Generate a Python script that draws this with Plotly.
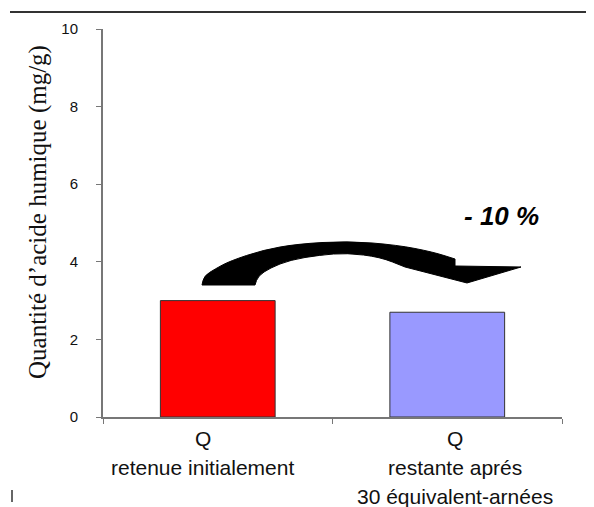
import plotly.graph_objects as go

# ---- data ----
categories = ["initial", "restante"]
values = [3.0, 2.7]
bar_colors = ["#FF0000", "#9999FF"]
label_lines = [["Q", "retenue initialement"],
               ["Q", "restante aprés", "30 équivalent-arnées"]]
y_ticks = [0, 2, 4, 6, 8, 10]
y_title = "Quantité d\u2019acide humique (mg/g)"
change_text = "- 10 %"

# page body has an 8px margin: size the figure so it fits the window
OFF = 8
W, H = 594 - OFF, 507 - OFF
L, R, T, B = 103 - OFF, 32, 29 - OFF, 90
PW, PH = W - L - R, H - T - B

def px(x):  # window pixel -> paper
    return (x - OFF - L) / PW

def py(y):
    return (H - B - (y - OFF)) / PH

def P(p):
    return f"{px(p[0]):.4f},{py(p[1]):.4f}"

def mid(a, b):
    return ((a[0] + b[0]) / 2, (a[1] + b[1]) / 2)

def smooth(pts):
    s = " L " + P(mid(pts[0], pts[1]))
    for i in range(1, len(pts) - 1):
        s += " Q " + P(pts[i]) + " " + P(mid(pts[i], pts[i + 1]))
    s += " L " + P(pts[-1])
    return s

fig = go.Figure()
fig.add_trace(go.Bar(
    x=categories, y=values, width=0.5,
    marker=dict(color=bar_colors, line=dict(color="#333333", width=1)),
    showlegend=False, hoverinfo="skip",
))

fig.update_layout(
    width=W, height=H,
    margin=dict(l=L, r=R, t=T, b=B),
    paper_bgcolor="white", plot_bgcolor="white",
    xaxis=dict(showticklabels=False, tickson="boundaries", ticks="outside",
               ticklen=5, tickcolor="#777777", showline=True, linecolor="#777777",
               linewidth=2, showgrid=False, zeroline=False),
    yaxis=dict(range=[0, 10], tickvals=y_ticks, ticks="outside", ticklen=5,
               tickcolor="#777777", showline=True, linecolor="#777777", linewidth=2,
               showgrid=False, zeroline=False, ticklabelstandoff=15,
               tickfont=dict(family="Liberation Sans, Arial", size=15, color="#111111")),
)

annotations = []
line_y = [21, 50, 79]
label_xshift = [-15, 8]
for cat, lines, xs in zip(categories, label_lines, label_xshift):
    for i, t in enumerate(lines):
        annotations.append(dict(
            text=t, xref="x", x=cat, yref="paper", y=0, yanchor="middle",
            yshift=-line_y[i], xshift=xs, showarrow=False,
            font=dict(family="Liberation Sans, Arial", size=21, color="#111111")))

annotations.append(dict(
    text=y_title, textangle=-90, xref="paper", x=px(38), yref="paper", y=py(212),
    xanchor="center", yanchor="middle", showarrow=False,
    font=dict(family="Liberation Serif, Times New Roman", size=25, color="#111111")))

annotations.append(dict(
    text="<b><i>" + change_text.replace(" ", "\u00a0") + "</i></b>", xref="paper",
    x=px(501), yref="paper", y=py(216), xanchor="center", yanchor="middle",
    showarrow=False,
    font=dict(family="Liberation Sans, Arial", size=26, color="black")))
fig.update_layout(annotations=annotations)

# curved arrow (window pixel outline)
upper = [(202, 285), (204, 276), (215, 269), (230, 261), (263, 250), (297, 244),
         (347, 241), (397, 245), (433, 252), (455, 259)]
head = [(455, 266), (521, 267), (467, 283), (405, 267)]
inner = [(405, 267), (380, 257), (347, 253), (320, 255), (290, 260),
         (270, 268), (258, 276), (255, 285)]
path = "M " + P(upper[0]) + smooth(upper)
path += "".join(" L " + P(p) for p in head)
path += smooth(inner) + " Z"

shapes = [
    dict(type="path", path=path, xref="paper", yref="paper",
         fillcolor="black", line=dict(color="black", width=1)),
    dict(type="line", xref="paper", yref="paper", x0=px(10), x1=px(594),
         y0=py(12), y1=py(12), line=dict(color="#333333", width=2)),
    dict(type="line", xref="paper", yref="paper", x0=px(12), x1=px(12),
         y0=py(490), y1=py(502), line=dict(color="#333333", width=1.5)),
]
fig.update_layout(shapes=shapes)

fig.write_html("out.html")
